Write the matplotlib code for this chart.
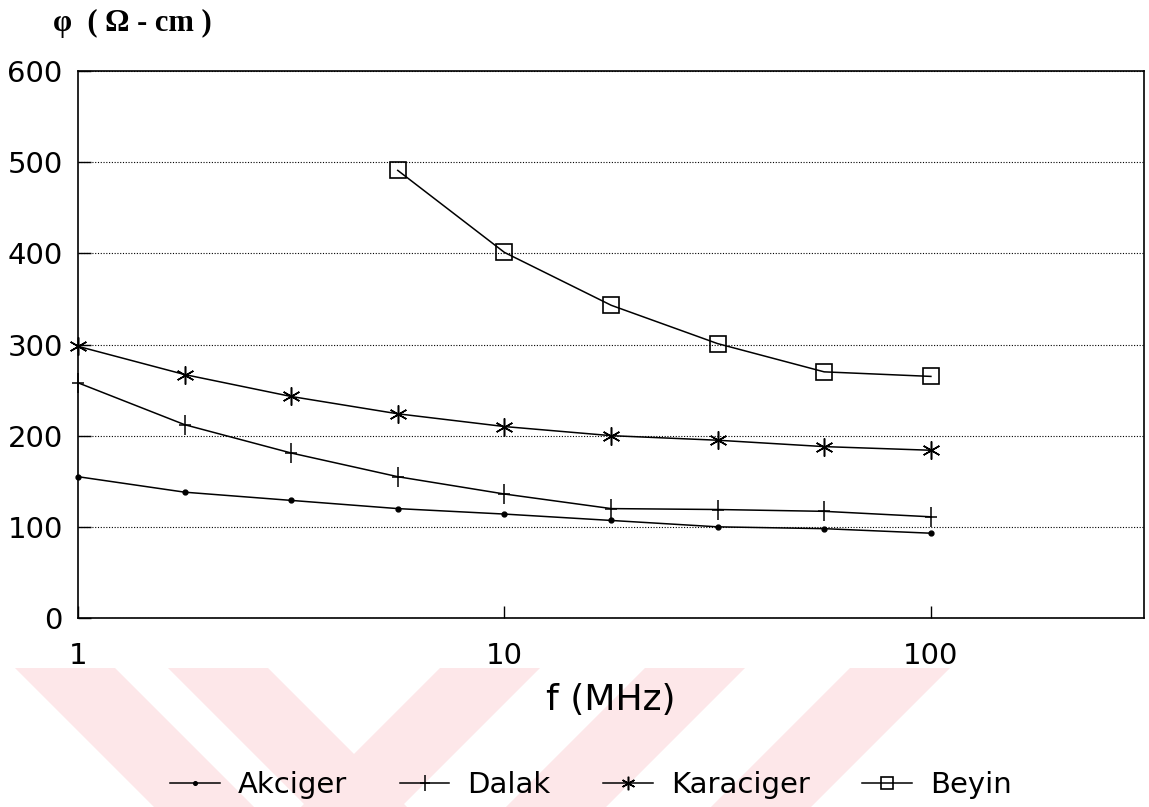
import matplotlib
matplotlib.use("Agg")
import matplotlib.pyplot as plt
from matplotlib.path import Path
from matplotlib.patches import Polygon
from matplotlib.ticker import NullLocator

plt.rcParams['font.family'] = ['DejaVu Sans']

# resistivity vs frequency for four tissues
freq = [1, 1.78, 3.16, 5.62, 10, 17.8, 31.6, 56.2, 100]
akciger = [155, 138, 129, 120, 114, 107, 100, 98, 93]
dalak = [258, 212, 181, 155, 136, 120, 119, 117, 111]
karaciger = [298, 267, 243, 224, 210, 200, 195, 188, 184]
beyin_freq = [5.62, 10, 17.8, 31.6, 56.2, 100]
beyin = [491, 401, 343, 301, 270, 265]

x_ticks = [1, 10, 100]
x_labels = ["1", "10", "100"]
y_ticks = [0, 100, 200, 300, 400, 500, 600]

W, H = 1149, 807
fig = plt.figure(figsize=(W / 100, H / 100), dpi=100)


def px(x, y):
    return (x / W, 1 - y / H)


# faint pink diagonal bands along the bottom
top, bot = 668, 807
drop = bot - top
bands = []
for x0 in [15, 168]:
    bands.append([px(x0, top), px(x0 + 100, top), px(x0 + 100 + drop, bot), px(x0 + drop, bot)])
for x0 in [440, 645, 850]:
    bands.append([px(x0, top), px(x0 + 100, top), px(x0 + 100 - drop, bot), px(x0 - drop, bot)])
for b in bands:
    fig.patches.append(Polygon(b, closed=True, transform=fig.transFigure,
                               facecolor="#fde7e9", edgecolor="none", zorder=0))

ax = fig.add_axes([78 / W, (H - 618) / H, (1144 - 78) / W, (618 - 71) / H])
ax.set_facecolor("none")
ax.set_xscale("log")
ax.set_xlim(1, 316)
ax.set_ylim(0, 600)

ax.set_xticks(x_ticks)
ax.set_xticklabels(x_labels)
ax.xaxis.set_minor_locator(NullLocator())
ax.set_yticks(y_ticks)
ax.tick_params(direction="in", length=9, width=1, labelsize=21, color="k")
ax.tick_params(axis="x", pad=17)
ax.tick_params(axis="y", pad=11)

for s in ax.spines.values():
    s.set_linewidth(1.2)
    s.set_color("k")

ax.grid(axis="y", linestyle=(0, (1, 1.5)), color="k", linewidth=0.8)

# tall plus marker
plus = Path([(0, -1), (0, 1), (-0.6, 0), (0.6, 0)],
            [Path.MOVETO, Path.LINETO, Path.MOVETO, Path.LINETO])

lw = 1.1
ax.plot(freq, akciger, color="k", lw=lw, marker="o", ms=3.5, label="Akciger", clip_on=False)
ax.plot(freq, dalak, color="k", lw=lw, marker=plus, ms=15, mew=1.1, label="Dalak", clip_on=False)
ax.plot(freq, karaciger, color="k", lw=lw, marker=(6, 2, 0), ms=13, mew=1.1,
        label="Karaciger", clip_on=False)
ax.plot(beyin_freq, beyin, color="k", lw=lw, marker="s", ms=11, mfc="none", mew=1.2,
        label="Beyin", clip_on=False)

fig.text(611 / W, 1 - 700 / H, "f (MHz)", ha="center", va="center", fontsize=26)
fig.text(53 / W, 1 - 23 / H, "φ  ( Ω - cm )", ha="left", va="center",
         family=["Liberation Serif", "DejaVu Serif"], weight="bold", fontsize=22)

fig.legend(loc="center", bbox_to_anchor=(591 / W, 1 - 785 / H), ncol=4, frameon=False,
           fontsize=21, handlelength=1.7, handletextpad=0.62, columnspacing=1.8,
           markerscale=0.75)

fig.savefig("out.png", dpi=100, facecolor="white")
